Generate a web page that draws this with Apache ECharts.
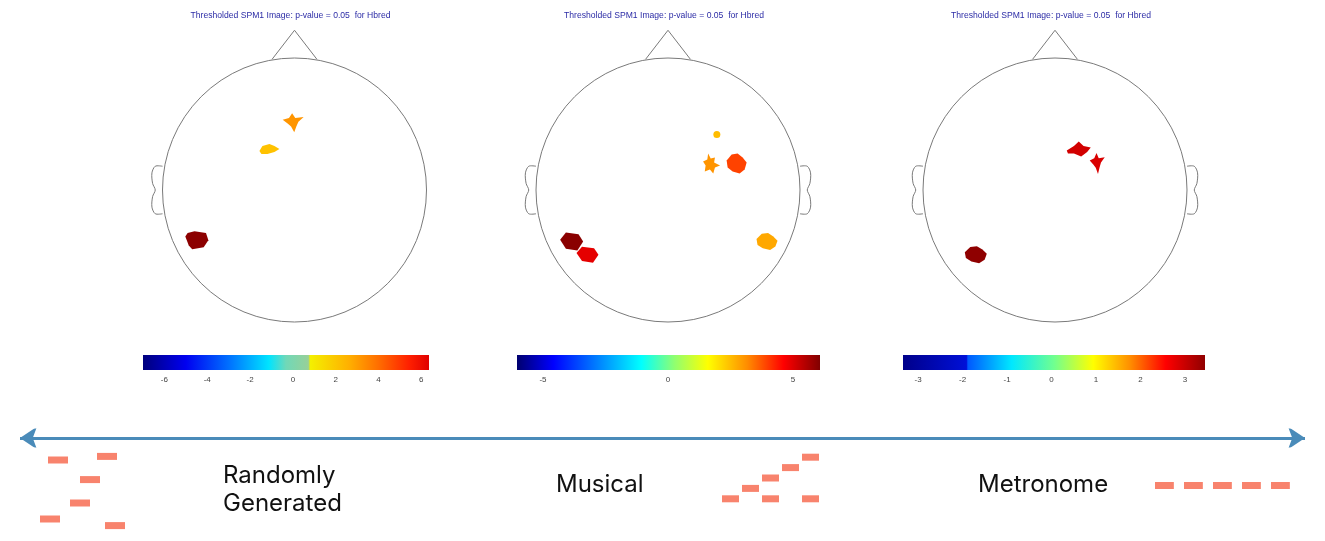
<!DOCTYPE html>
<html style="height: 100%">
<head>
    <meta charset="UTF-8" />
    <script type="text/javascript" src="https://cdn.jsdelivr.net/npm/echarts@6.0.0/dist/echarts.min.js"></script>
</head>
<body style="height: 100%; margin: 0; background: #fff">
    <div id="container" style="width: 1325px; height: 541px"></div>
    <script>
        // ---- data ----
        var headTitle = 'Thresholded SPM1 Image: p-value = 0.05  for Hbred';
        // blobs: [x, y, t-value] on a unit scalp (nose up)
        var blobsRandom = [[-0.01, 0.51, 2.75], [-0.19, 0.31, 2.15], [-0.74, -0.38, 6.2]];
        var blobsMusical = [[0.37, 0.42, 2.32], [0.33, 0.2, 2.81], [0.52, 0.2, 3.78], [0.75, -0.39, 2.57], [-0.73, -0.39, 5.96], [-0.61, -0.49, 4.87]];
        var blobsMetronome = [[0.18, 0.31, 2.9], [0.32, 0.2, 2.85], [-0.6, -0.49, 3.35]];
        var cbarRanges = [[-7, 6.36], [-6.04, 6.08], [-3.34, 3.45]];
        var cbarTicks = [[-6, -4, -2, 0, 2, 4, 6], [-5, 0, 5], [-3, -2, -1, 0, 1, 2, 3]];
        var condNames = ['Randomly\nGenerated', 'Musical', 'Metronome'];
        // notes: [onset (beats), pitch]
        var randomNotes = [[0.05, 2.75], [0.45, 17.5], [1.55, 6.75], [2.05, 12.6], [2.9, 18.4], [3.3, 1.1]];
        var musicalNotes = [[0, 0], [1, 1], [2, 0], [2, 2], [3, 3], [4, 0], [4, 4]];
        var metronomeNotes = [[0, 0], [1, 0], [2, 0], [3, 0], [4, 0]];

        // ---- shapes / styles ----
        var SHAPES = {
            star: 'path://M9,0 L12,5 L20,4 L15,9 L13,14 L11,20 L8,14 L5,11 L0,7 L6,5 Z',
            flake: 'path://M0,7 L3,2 L10,0 L15,2 L20,5 L15,8 L8,10 L2,10 Z',
            hex: 'path://M2,2 L8,0 L18,2 L20,10 L16,18 L6,20 L3,16 L0,6 Z',
            hex2: 'path://M0,8 L5,0 L16,2 L20,10 L15,20 L5,18 Z',
            jag: 'path://M6,0 L9,5 L14,4 L13,9 L20,12 L14,14 L12,20 L8,16 L2,18 L3,12 L0,8 L5,6 Z',
            wing: 'path://M0,12 L6,6 L10,0 L14,6 L20,8 L17,14 L12,20 L6,16 L1,16 Z',
            round: 'path://M5,1 L11,0 L16,4 L20,9 L18,16 L13,20 L6,18 L1,14 L0,7 Z',
            dot: 'circle'
        };
        var shapesRandom = [['star', 21, 19], ['flake', 20, 10], ['hex', 23, 18]];
        var shapesMusical = [['dot', 7, 7], ['jag', 17, 20], ['round', 20, 20], ['round', 21, 17], ['hex2', 23, 18], ['hex2', 22, 16]];
        var shapesMetronome = [['wing', 24, 15], ['star', 15, 21], ['round', 22, 17]];
        var JET = ['#00008f', '#0000ff', '#0080ff', '#00ffff', '#80ff80', '#ffff00', '#ff8000', '#ff0000', '#800000'];
        var cbarStops = [
            [[0, '#00007c'], [0.15, '#0000f0'], [0.3, '#0070ff'], [0.44, '#00e4ff'], [0.5, '#70d8b8'], [0.578, '#98d098'], [0.585, '#f4f000'], [0.72, '#ffb000'], [0.82, '#ff7000'], [0.93, '#ff2000'], [1, '#e00000']],
            [[0, '#00006e'], [0.12, '#0000ff'], [0.41, '#00ffff'], [0.52, '#90ff70'], [0.63, '#ffff00'], [0.76, '#ff8c00'], [0.88, '#ff0000'], [1, '#800000']],
            [[0, '#00008a'], [0.21, '#0010d8'], [0.215, '#0058ff'], [0.36, '#00e8ff'], [0.5, '#70ff90'], [0.63, '#ffff00'], [0.75, '#ff9000'], [0.87, '#ff0000'], [1, '#900000']]
        ];

        var headCx = [294.5, 668, 1055];
        var R = 132, SPAN = 1.3;
        var noteColor = '#f8836d';

        var chart = echarts.init(document.getElementById('container'));

        var grids = [], xAxes = [], yAxes = [], series = [], visualMaps = [], graphics = [];
        function addGrid(g, x, y) {
            grids.push(g);
            xAxes.push(Object.assign({ gridIndex: grids.length - 1, type: 'value', show: false }, x));
            yAxes.push(Object.assign({ gridIndex: grids.length - 1, type: 'value', show: false }, y));
            return grids.length - 1;
        }

        function headRender(bothEars) {
            return function (params, api) {
                var c = api.coord([0, 0]);
                var r = api.size([1, 0])[0];
                var line = { stroke: '#7a7a7a', lineWidth: 1, fill: null };
                var nose = [[-0.17, 0.99], [0, 1.21], [0.17, 0.99]].map(function (p) { return api.coord(p); });
                var ear = [[-1.0, 0.18], [-1.055, 0.18], [-1.08, 0.13], [-1.075, 0.05], [-1.055, 0], [-1.075, -0.05], [-1.08, -0.13], [-1.055, -0.18], [-1.0, -0.18]];
                var kids = [
                    { type: 'circle', shape: { cx: c[0], cy: c[1], r: r }, style: line },
                    { type: 'polyline', shape: { points: nose }, style: line },
                    { type: 'polyline', shape: { points: ear.map(function (p) { return api.coord(p); }), smooth: 0.3 }, style: line }
                ];
                if (bothEars) {
                    kids.push({ type: 'polyline', shape: { points: ear.map(function (p) { return api.coord([-p[0], p[1]]); }), smooth: 0.3 }, style: line });
                }
                return { type: 'group', children: kids };
            };
        }

        var allBlobs = [blobsRandom, blobsMusical, blobsMetronome];
        var allShapes = [shapesRandom, shapesMusical, shapesMetronome];
        for (var i = 0; i < 3; i++) {
            var gi = addGrid({ left: headCx[i] - SPAN * R, top: 190 - SPAN * R, width: 2 * SPAN * R, height: 2 * SPAN * R },
                { min: -SPAN, max: SPAN }, { min: -SPAN, max: SPAN });
            series.push({
                type: 'custom', xAxisIndex: gi, yAxisIndex: gi, silent: true, z: 1,
                data: [[0, 0]], renderItem: headRender(i > 0)
            });
            (function (shapes) {
                series.push({
                    type: 'scatter', xAxisIndex: gi, yAxisIndex: gi, silent: true, z: 3,
                    data: allBlobs[i],
                    symbol: function (v, p) { return SHAPES[shapes[p.dataIndex][0]]; },
                    symbolSize: function (v, p) { return [shapes[p.dataIndex][1], shapes[p.dataIndex][2]]; },
                    symbolKeepAspect: false,
                    itemStyle: { opacity: 1 }
                });
            })(allShapes[i]);
            visualMaps.push({
                type: 'continuous', show: false, seriesIndex: series.length - 1, dimension: 2,
                min: cbarRanges[i][0], max: cbarRanges[i][1], inRange: { color: JET }
            });
            graphics.push({
                type: 'text', x: headCx[i] - 4, y: 16,
                style: { text: headTitle, font: '8.6px "Liberation Sans"', fill: '#2c2ca6', align: 'center', verticalAlign: 'middle' }
            });
        }

        // colour bars
        var cbarBox = [[143, 286], [517, 303], [903, 302]];
        for (var k = 0; k < 3; k++) {
            var gk = addGrid({ left: cbarBox[k][0], top: 355, width: cbarBox[k][1], height: 15 },
                {
                    show: true, min: cbarRanges[k][0], max: cbarRanges[k][1],
                    axisLine: { show: false }, axisTick: { show: false }, splitLine: { show: false },
                    axisLabel: { customValues: cbarTicks[k], fontSize: 8, color: '#444', margin: 6, fontFamily: 'Liberation Sans' }
                },
                { min: 0, max: 1 });
            (function (stops) {
                series.push({
                    type: 'custom', xAxisIndex: gk, yAxisIndex: gk, silent: true,
                    data: [cbarRanges[k]],
                    renderItem: function (params, api) {
                        var a = api.coord([api.value(0), 1]);
                        var b = api.coord([api.value(1), 0]);
                        return {
                            type: 'rect', shape: { x: a[0], y: a[1], width: b[0] - a[0], height: b[1] - a[1] },
                            style: {
                                fill: {
                                    type: 'linear', x: 0, y: 0, x2: 1, y2: 0,
                                    colorStops: stops.map(function (s) { return { offset: s[0], color: s[1] }; })
                                }
                            }
                        };
                    }
                });
            })(cbarStops[k]);
        }

        // double arrow
        var ga = addGrid({ left: 20, top: 430, width: 1285, height: 16 }, { min: 0, max: 1 }, { min: -1, max: 1 });
        series.push({
            type: 'lines', coordinateSystem: 'cartesian2d', xAxisIndex: ga, yAxisIndex: ga, silent: true,
            symbol: ['arrow', 'arrow'], symbolSize: 17,
            lineStyle: { color: '#4a8bb9', width: 3, opacity: 1 },
            data: [{ coords: [[0, 0], [1, 0]] }]
        });

        // piano rolls
        function noteRender(dur, h) {
            return function (params, api) {
                var p = api.coord([api.value(0), api.value(1)]);
                var w = api.size([dur, 0])[0];
                return { type: 'rect', shape: { x: p[0], y: p[1] - h / 2, width: w, height: h }, style: { fill: noteColor } };
            };
        }
        var rolls = [
            { notes: randomNotes, box: { left: 39, top: 450, width: 84, height: 80 }, x: [0, 4.2], y: [0, 20], dur: 1, h: 7 },
            { notes: musicalNotes, box: { left: 722, top: 452, width: 100, height: 52 }, x: [0, 5], y: [-0.5, 4.5], dur: 0.85, h: 7 },
            { notes: metronomeNotes, box: { left: 1155, top: 480.5, width: 145, height: 10 }, x: [0, 5], y: [-0.5, 0.5], dur: 0.65, h: 7 }
        ];
        rolls.forEach(function (r) {
            var g = addGrid(r.box, { min: r.x[0], max: r.x[1] }, { min: r.y[0], max: r.y[1] });
            series.push({
                type: 'custom', xAxisIndex: g, yAxisIndex: g, silent: true,
                data: r.notes, renderItem: noteRender(r.dur, r.h)
            });
        });

        // condition labels
        var labelPos = [[223, 462], [556, 485], [978, 485]];
        condNames.forEach(function (t, i) {
            graphics.push({
                type: 'text', x: labelPos[i][0], y: labelPos[i][1],
                style: { text: t, font: '24px Inter', fill: '#111', align: 'left', verticalAlign: i === 0 ? 'top' : 'middle', lineHeight: 28 }
            });
        });

        chart.setOption({
            animation: false,
            backgroundColor: '#ffffff',
            grid: grids,
            xAxis: xAxes,
            yAxis: yAxes,
            visualMap: visualMaps,
            series: series,
            graphic: graphics
        });
    </script>
</body>
</html>
